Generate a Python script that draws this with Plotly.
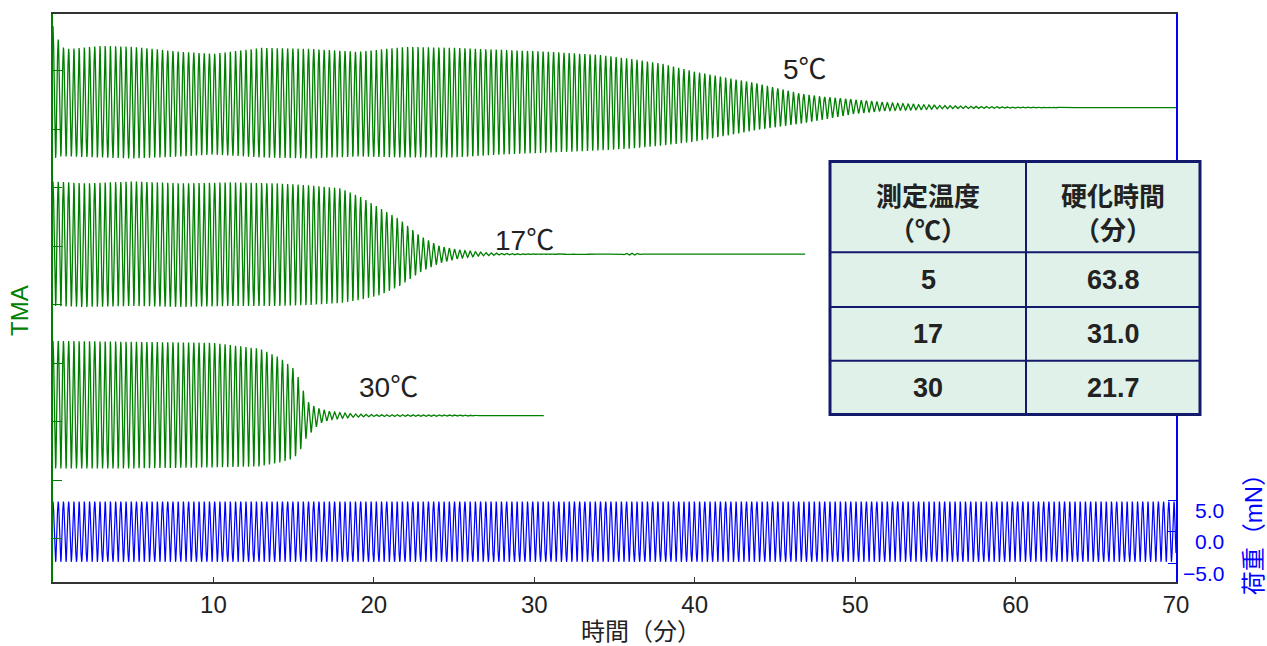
import numpy as np
import plotly.graph_objects as go

# ---------------- data ----------------
period_min = 0.325          # oscillation period of applied load (min)

# 5 degC TMA envelope (time, upper, lower) in TMA units
t5 = [0, 0.5, 1, 3, 5, 8, 10, 13, 16, 19, 22, 25, 28, 31, 34, 36, 38, 40, 42, 44, 46.6, 48, 50, 52, 54, 56, 58, 60, 62, 64, 70]
up5 = [558, 537, 535, 538, 537, 532, 530, 536, 535, 532, 537, 536, 534, 532, 529, 525, 520, 512, 506, 500, 490, 487, 484, 481, 479, 478, 477.2, 476.7, 476.4, 476, 476]
lo5 = [425, 427, 427, 426, 425, 427, 429, 426, 425, 427, 426, 426, 429, 431, 433, 435, 438, 442, 448, 454, 460, 464, 470, 473, 474, 475, 475.3, 475.6, 475.8, 476, 476]

# 17 degC
t17 = [0, 2, 5, 8, 11, 14, 16, 17.9, 19.1, 20.4, 21.6, 22.9, 24.1, 25.4, 26.6, 28, 30, 35.4, 35.8, 36.3, 36.7, 46.9]
up17 = [402, 400, 402, 400, 401, 400, 398, 395, 387, 375, 364, 347, 337, 333, 331, 329.8, 329.3, 329, 330, 330, 329, 329]
lo17 = [277, 276, 277, 276, 277, 277, 278, 280, 283, 288, 297, 311, 320, 325, 327, 328.2, 328.7, 329, 328, 328, 329, 329]

# 30 degC
t30 = [0, 5, 10, 12.9, 14.15, 15.0, 15.4, 15.8, 16.2, 16.6, 17.3, 18.5, 20, 26, 27, 30.6]
up30 = [242, 241, 240, 234, 225, 214, 202, 182, 177, 174, 171, 169, 168, 167.5, 167, 167]
lo30 = [114, 114, 115, 116, 120, 124, 132, 145, 152, 159, 163, 165, 166, 166.5, 167, 167]

# load (mN)
load_amp = 4.8
load_end = 70

x_ticks = [10, 20, 30, 40, 50, 60, 70]
load_ticks = [-5.0, 0.0, 5.0]

labels = ["5℃", "17℃", "30℃"]

table_head = [["測定温度", "（℃）"], ["硬化時間", "（分）"]]
temps = ["5", "17", "30"]
cure_times = ["63.8", "31.0", "21.7"]

# ---------------- build ----------------
GREEN = "#008000"
BLUE = "#0000ff"
FONT = "Liberation Sans, Noto Sans CJK JP, sans-serif"
TFONT = "Noto Sans CJK JP, Liberation Sans, sans-serif"

L, R, T, B = 53, 1176, 12, 582


def px(xp, yp):
    return (xp - L) / (R - L), (B - yp) / (B - T)


def wave(tt, uu, ll):
    t = np.arange(0, tt[-1] + 1e-9, period_min / 16)
    u = np.interp(t, tt, uu)
    l = np.interp(t, tt, ll)
    return t, (u + l) / 2 + (u - l) / 2 * np.cos(2 * np.pi * t / period_min)


fig = go.Figure()
for tt, uu, ll in [(t5, up5, lo5), (t17, up17, lo17), (t30, up30, lo30)]:
    x, y = wave(tt, uu, ll)
    fig.add_trace(go.Scatter(x=x, y=y, mode="lines", line=dict(color=GREEN, width=1.3),
                             showlegend=False, hoverinfo="skip"))

tl = np.arange(0, load_end + 1e-9, period_min / 16)
fig.add_trace(go.Scatter(x=tl, y=load_amp * np.cos(2 * np.pi * tl / period_min), yaxis="y2",
                         mode="lines", line=dict(color=BLUE, width=1.2),
                         showlegend=False, hoverinfo="skip"))

fig.update_layout(
    width=1267, height=646,
    margin=dict(l=L, r=1267 - R, t=T, b=646 - B),
    paper_bgcolor="white", plot_bgcolor="white",
    font=dict(family=FONT, color="#222", size=22),
    xaxis=dict(range=[0, 70], tickvals=x_ticks, ticks="inside", ticklen=5, tickcolor="#333",
               showline=True, linecolor="#333", linewidth=1.5, mirror=True,
               showgrid=False, zeroline=False, tickfont=dict(size=24, color="#222")),
    yaxis=dict(range=[0, 570], tickvals=[513, 454.3, 395.6, 336.9, 278.2, 219.5, 160.8, 102.1, 43.4],
               ticks="inside", ticklen=9, tickcolor=GREEN, showticklabels=False,
               showline=True, linecolor=GREEN, linewidth=1.5, showgrid=False, zeroline=False),
    yaxis2=dict(range=[-8.02, 82.54], overlaying="y", side="right", tickvals=load_ticks,
                ticks="inside", ticklen=8, tickcolor=BLUE, showticklabels=False,
                showline=True, linecolor=BLUE, linewidth=1.5, showgrid=False, zeroline=False),
)

ann = []


def note(xp, yp, text, size, color="#222", family=FONT, **kw):
    ax, ay = px(xp, yp)
    d = dict(x=ax, y=ay, xref="paper", yref="paper", text=text, showarrow=False,
             xanchor="center", yanchor="middle", font=dict(size=size, color=color, family=family))
    d.update(kw)
    ann.append(d)


# trace labels
for lab, (xp, yp) in zip(labels, [(805, 68), (524, 239), (388, 387)]):
    note(xp, yp, lab, 28)

# axis titles
note(641, 632, "時間（分）", 24)
note(20, 310, "TMA", 24, GREEN, textangle=-90)
note(1253, 529, "荷重（mN）", 24, BLUE, textangle=-90)

# right tick labels (offset like reference)
for v in load_ticks:
    s = f"{v:.1f}".replace("-", "−")
    ann.append(dict(x=(1226 - L) / (R - L), y=v, xref="paper", yref="y2", yshift=-10,
                    text=s, showarrow=False, xanchor="right", yanchor="middle",
                    font=dict(size=21, color=BLUE)))

# table
NAVY = "#141a6b"
FILL = "#dff1e9"
tx0, tx1, txm = 830, 1200, 1026
rows = [160, 251, 306, 360, 414]
shapes = []
x0, y0 = px(tx0, rows[0])
x1, y1 = px(tx1, rows[-1])
shapes.append(dict(type="rect", xref="paper", yref="paper", x0=x0, x1=x1, y0=y1, y1=y0,
                   fillcolor=FILL, line=dict(color=NAVY, width=3), layer="above"))
for r in rows[1:-1]:
    a, b = px(tx0, r)
    c, _ = px(tx1, r)
    shapes.append(dict(type="line", xref="paper", yref="paper", x0=a, x1=c, y0=b, y1=b,
                       line=dict(color=NAVY, width=2), layer="above"))
a, b = px(txm, rows[0])
_, d = px(txm, rows[-1])
shapes.append(dict(type="line", xref="paper", yref="paper", x0=a, x1=a, y0=b, y1=d,
                   line=dict(color=NAVY, width=2), layer="above"))

cx = [(tx0 + txm) / 2, (txm + tx1) / 2]
for ci, head in enumerate(table_head):
    note(cx[ci], 210.5, "<b>" + "<br>".join(head) + "</b>", 26, family=TFONT)
for ri in range(3):
    cy = (rows[ri + 1] + rows[ri + 2]) / 2
    for ci, val in enumerate([temps[ri], cure_times[ri]]):
        note(cx[ci], cy, f"<b>{val}</b>", 27)

fig.update_layout(annotations=ann, shapes=shapes)
fig.write_html("out.html", post_script="document.body.style.margin='0';",
               config={"displayModeBar": False})
